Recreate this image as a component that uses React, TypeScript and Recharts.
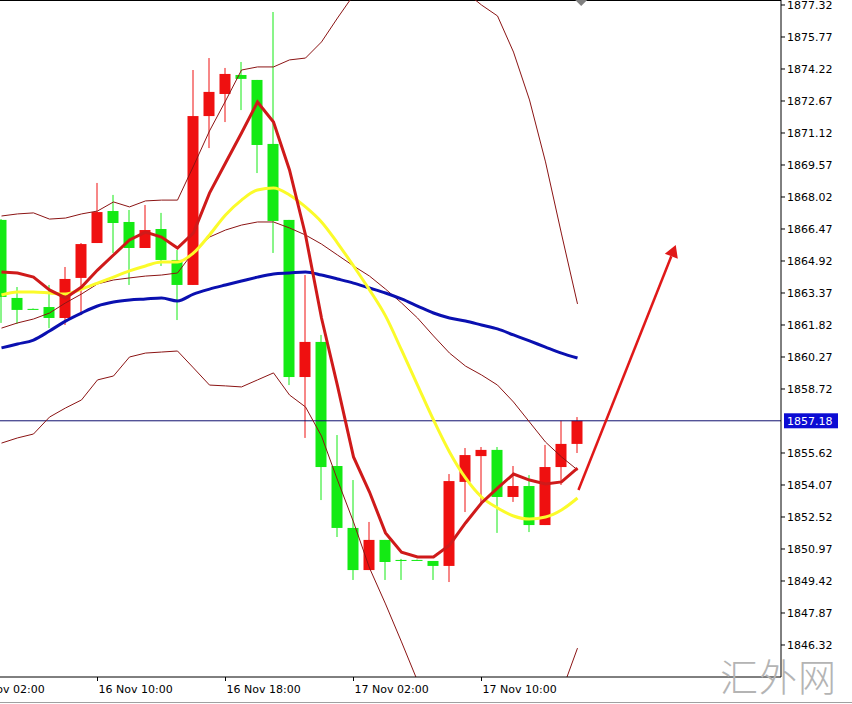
import {
  Bar,
  ComposedChart,
  Line,
  ReferenceDot,
  ReferenceLine,
  XAxis,
  YAxis,
} from "recharts";

// H1 candles, 16 Nov 04:00 .. 17 Nov 16:00 (index 0..36)
const OPEN = [1866.91, 1863.13, 1862.6, 1862.69, 1862.16, 1864.1, 1865.79, 1867.34, 1866.81, 1865.55, 1866.47, 1864.97, 1863.76, 1871.94, 1873.01, 1873.93, 1873.69, 1870.59, 1866.91, 1859.3, 1861.0, 1854.99, 1851.99, 1849.95, 1851.41, 1850.44, 1850.44, 1850.39, 1850.15, 1854.22, 1855.47, 1855.77, 1853.49, 1854.02, 1852.13, 1854.94, 1856.06];
const HIGH = [1866.95, 1863.66, 1862.62, 1863.76, 1864.63, 1865.79, 1868.7, 1868.12, 1867.39, 1867.63, 1867.25, 1865.45, 1874.17, 1874.75, 1874.27, 1874.56, 1873.69, 1876.98, 1866.91, 1864.24, 1861.34, 1856.49, 1854.31, 1852.28, 1851.41, 1850.49, 1850.46, 1850.39, 1854.6, 1855.86, 1855.91, 1855.91, 1854.99, 1854.55, 1856.01, 1857.18, 1857.36];
const LOW = [1861.92, 1861.87, 1862.58, 1861.67, 1861.82, 1862.3, 1865.79, 1865.31, 1863.76, 1865.55, 1864.68, 1862.06, 1863.76, 1870.39, 1871.65, 1872.23, 1869.18, 1865.31, 1858.91, 1856.35, 1853.34, 1851.55, 1849.47, 1849.95, 1849.47, 1849.47, 1850.42, 1849.47, 1849.37, 1852.76, 1853.2, 1851.75, 1853.25, 1851.79, 1852.13, 1854.07, 1855.62];
const CLOSE = [1863.18, 1862.55, 1862.6, 1862.16, 1864.05, 1865.74, 1867.29, 1866.76, 1865.55, 1866.42, 1864.97, 1863.76, 1871.94, 1873.11, 1873.98, 1873.74, 1870.54, 1866.86, 1859.3, 1861.0, 1854.94, 1851.99, 1849.95, 1851.41, 1850.34, 1850.39, 1850.44, 1850.15, 1854.26, 1855.52, 1855.77, 1853.49, 1854.02, 1852.13, 1854.94, 1856.06, 1857.18];

// moving averages
const FAST_MA = [1864.39, 1864.34, 1864.14, 1863.52, 1863.13, 1863.66, 1864.48, 1865.21, 1865.94, 1866.32, 1866.08, 1865.55, 1866.28, 1868.21, 1869.67, 1871.12, 1872.62, 1871.65, 1869.33, 1866.18, 1862.16, 1858.87, 1855.43, 1853.73, 1851.75, 1850.82, 1850.58, 1850.58, 1851.16, 1852.23, 1853.2, 1853.92, 1854.6, 1854.31, 1854.12, 1854.22, 1854.89];
const MID_MA = [1863.27, 1863.42, 1863.42, 1863.37, 1863.32, 1863.56, 1863.85, 1864.14, 1864.44, 1864.68, 1864.87, 1864.87, 1865.31, 1866.18, 1867.15, 1867.87, 1868.36, 1868.46, 1868.12, 1867.54, 1866.81, 1865.79, 1864.68, 1863.52, 1862.26, 1860.61, 1858.91, 1857.22, 1855.67, 1854.41, 1853.49, 1852.96, 1852.57, 1852.42, 1852.52, 1852.86, 1853.44];
const SLOW_MA = [1860.71, 1860.9, 1861.09, 1861.53, 1862.01, 1862.4, 1862.74, 1862.93, 1863.03, 1863.08, 1863.13, 1862.98, 1863.32, 1863.56, 1863.76, 1863.95, 1864.14, 1864.29, 1864.34, 1864.39, 1864.24, 1864.05, 1863.85, 1863.61, 1863.37, 1863.08, 1862.74, 1862.4, 1862.16, 1862.01, 1861.82, 1861.63, 1861.34, 1861.05, 1860.75, 1860.46, 1860.22];

// bollinger bands
const BB_UPPER = [1867.1, 1867.2, 1867.25, 1866.95, 1867.0, 1867.2, 1867.34, 1867.78, 1867.54, 1867.83, 1867.87, 1867.87, 1869.52, 1871.22, 1872.67, 1874.17, 1874.32, 1874.32, 1874.66, 1874.75, 1875.53, 1876.69, 1877.8, 1878.43, 1879.02, 1879.5, 1879.69, 1879.5, 1878.77, 1877.95, 1877.32, 1876.79, 1875.04, 1872.72, 1869.72, 1866.23, 1862.84];
const BB_MID = [1861.67, 1861.92, 1862.11, 1862.4, 1862.89, 1863.32, 1863.81, 1864.0, 1864.1, 1864.19, 1864.24, 1864.34, 1865.36, 1866.08, 1866.42, 1866.66, 1866.81, 1866.81, 1866.52, 1866.18, 1865.74, 1865.21, 1864.68, 1864.19, 1863.56, 1862.89, 1862.16, 1861.29, 1860.46, 1859.83, 1859.4, 1858.91, 1858.09, 1857.12, 1856.15, 1855.43, 1854.8];
const BB_LOWER = [1856.1, 1856.35, 1856.54, 1857.36, 1857.8, 1858.19, 1859.16, 1859.35, 1860.27, 1860.46, 1860.51, 1860.56, 1859.74, 1858.91, 1858.87, 1858.82, 1859.16, 1859.5, 1858.43, 1857.85, 1856.44, 1854.31, 1852.28, 1850.05, 1848.31, 1846.47, 1844.58, 1843.07, 1842.15, 1841.72, 1841.48, 1841.14, 1841.14, 1841.48, 1842.44, 1844.04, 1846.17];

const TIME_TICKS = [-2, 6, 14, 22, 30];
const TIME_LABELS = ["16 Nov 02:00", "16 Nov 10:00", "16 Nov 18:00", "17 Nov 02:00", "17 Nov 10:00"];
const PRICE_TICKS = [1877.32, 1875.77, 1874.22, 1872.67, 1871.12, 1869.57, 1868.02, 1866.47, 1864.92, 1863.37, 1861.82, 1860.27, 1858.72, 1855.62, 1854.07, 1852.52, 1850.97, 1849.42, 1847.87, 1846.32];
const LAST_PRICE = 1857.18;
const ARROW_FROM = { k: 36.06, price: 1853.83 };
const ARROW_TO = { k: 42.14, price: 1865.69 };
const SHIFT_MARK = 36.23;

const X_DOMAIN: [number, number] = [-3.09375, 48.71875];
const Y_DOMAIN: [number, number] = [1844.77, 1877.562];

const UP = "#ef1010";
const DOWN = "#14ea14";
const FONT = "DejaVu Sans";

const data = OPEN.map((open, k) => ({
  k,
  open,
  high: HIGH[k],
  low: LOW[k],
  close: CLOSE[k],
  fast: FAST_MA[k],
  mid: MID_MA[k],
  slow: SLOW_MA[k],
  upper: BB_UPPER[k],
  bbMid: BB_MID[k],
  lower: BB_LOWER[k],
}));

const Candle = (props: any) => {
  const { x, y, width, height, payload } = props;
  const { open, close, high, low } = payload;
  const color = close > open ? UP : DOWN;
  const ratio = high > low ? height / (high - low) : 0;
  const yOpen = y + (high - open) * ratio;
  const yClose = y + (high - close) * ratio;
  const top = Math.min(yOpen, yClose);
  const h = Math.max(Math.abs(yOpen - yClose), 1);
  const cx = x + width / 2;
  return (
    <g>
      <line x1={cx} x2={cx} y1={y} y2={y + Math.max(height, 1)} stroke={color} strokeWidth={1} />
      <rect x={x} y={top} width={width} height={h} fill={color} />
    </g>
  );
};

const TimeTick = ({ x, y, payload }: any) => {
  const i = TIME_TICKS.indexOf(payload.value);
  return (
    <text x={x + 1} y={y} dy="0.71em" fontSize={11} fontFamily={FONT} fill="#000">
      {TIME_LABELS[i]}
    </text>
  );
};

const PriceTag = ({ viewBox }: any) => {
  const { x, y, width } = viewBox;
  return (
    <g>
      <rect x={x + width + 3} y={y - 7.5} width={54} height={15} fill="#0c0cd4" />
      <text x={x + width + 6} y={y} dy="0.355em" fontSize={11} fontFamily={FONT} fill="#fff">
        {LAST_PRICE.toFixed(2)}
      </text>
    </g>
  );
};

const Arrow = ({ x1, y1, x2, y2 }: any) => {
  const len = Math.hypot(x2 - x1, y2 - y1);
  const ux = (x2 - x1) / len;
  const uy = (y2 - y1) / len;
  const bx = x2 - ux * 12;
  const by = y2 - uy * 12;
  const head = `${x2},${y2} ${bx - uy * 7},${by + ux * 7} ${bx + uy * 7},${by - ux * 7}`;
  return (
    <g>
      <line x1={x1} y1={y1} x2={bx} y2={by} stroke="#e01818" strokeWidth={2.5} />
      <polygon points={head} fill="#e01818" />
    </g>
  );
};

const ShiftMark = ({ cx, cy }: any) => (
  <polygon points={`${cx - 6},${cy} ${cx + 6},${cy} ${cx},${cy + 6}`} fill="#808080" />
);

export default function App() {
  return (
    <div style={{ position: "absolute", left: -48, top: 0, width: 900, height: 704, background: "#fff" }}>
      <ComposedChart width={900} height={704} data={data} margin={{ top: 0, right: 0, bottom: 0, left: 0 }}>
        <XAxis
          dataKey="k"
          type="number"
          domain={X_DOMAIN}
          allowDataOverflow
          ticks={TIME_TICKS}
          interval={0}
          height={27}
          stroke="#000"
          tickSize={4}
          tickMargin={4}
          tick={<TimeTick />}
        />
        <YAxis
          orientation="right"
          type="number"
          domain={Y_DOMAIN}
          allowDataOverflow
          ticks={PRICE_TICKS}
          interval={0}
          width={71}
          stroke="#000"
          tickSize={4}
          tick={{ fontSize: 11, fontFamily: FONT, fill: "#000" }}
          tickFormatter={(v: number) => v.toFixed(2)}
        />
        <ReferenceLine y={Y_DOMAIN[1]} stroke="#000" strokeWidth={2} ifOverflow="extendDomain" />
        <ReferenceLine y={LAST_PRICE} stroke="#10106e" strokeWidth={1} label={<PriceTag />} />
        <Bar dataKey={(d: any) => [d.low, d.high]} barSize={11} shape={<Candle />} isAnimationActive={false} />
        <Line dataKey="upper" stroke="#8b1414" strokeWidth={1} dot={false} activeDot={false} isAnimationActive={false} />
        <Line dataKey="bbMid" stroke="#8b1414" strokeWidth={1} dot={false} activeDot={false} isAnimationActive={false} />
        <Line dataKey="lower" stroke="#8b1414" strokeWidth={1} dot={false} activeDot={false} isAnimationActive={false} />
        <Line type="monotone" dataKey="slow" stroke="#0a10b0" strokeWidth={3} dot={false} activeDot={false} isAnimationActive={false} />
        <Line type="monotone" dataKey="mid" stroke="#fbfb2a" strokeWidth={3} dot={false} activeDot={false} isAnimationActive={false} />
        <Line dataKey="fast" stroke="#cf1a1a" strokeWidth={3} dot={false} activeDot={false} isAnimationActive={false} />
        <ReferenceLine
          segment={[
            { x: ARROW_FROM.k, y: ARROW_FROM.price },
            { x: ARROW_TO.k, y: ARROW_TO.price },
          ]}
          shape={<Arrow />}
          ifOverflow="visible"
        />
        <ReferenceDot x={SHIFT_MARK} y={Y_DOMAIN[1]} r={6} shape={<ShiftMark />} ifOverflow="visible" />
      </ComposedChart>
      <div
        style={{
          position: "absolute",
          left: 768,
          top: 656,
          fontFamily: "Noto Sans CJK SC",
          fontWeight: 300,
          fontSize: 38,
          letterSpacing: 1,
          color: "#b4b4b4",
          lineHeight: 1,
          whiteSpace: "nowrap",
        }}
      >
        汇外网
      </div>
      <div style={{ position: "absolute", left: 48, top: 702, width: 852, height: 1, background: "#a0a0a0" }} />
    </div>
  );
}
